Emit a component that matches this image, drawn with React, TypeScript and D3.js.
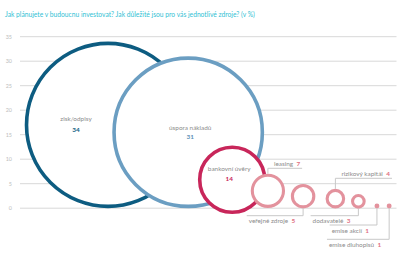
import React from "react";
import * as d3 from "d3";

const title = "Jak plánujete v budoucnu investovat? Jak důležité jsou pro vás jednotlivé zdroje? (v %)";
const categories = ["zisk/odpisy", "úspora nákladů", "bankovní úvěry", "leasing", "veřejné zdroje", "rizikový kapitál", "dodavatelé", "emise akcií", "emise dluhopisů"];
const values = [34, 31, 14, 7, 5, 4, 3, 1, 1];
const xValues = [18.0, 34.4, 43.4, 50.7, 57.9, 64.5, 69.2, 73.0, 75.5];
const yValues = [17, 15.5, 5.8, 3.55, 2.45, 1.95, 1.4, 0.45, 0.45];
const yTicks = [0, 5, 10, 15, 20, 25, 30, 35];
const colors = ["#0d5c81", "#6b9ec2", "#c8265a", "#e3929d", "#e3929d", "#e3929d", "#e3929d", "#e3929d", "#e3929d"];
const numColors = ["#0d5c81", "#5b8fb6", "#c8265a", "#e0707f", "#e0707f", "#e0707f", "#e0707f", "#e0707f", "#e0707f"];

const W = 410, H = 260;
const FONT = "Lato, 'Open Sans', sans-serif";

// label layout (pixels)
const inside: Record<number, { dx: number; dyName: number; dyVal: number }> = {
  0: { dx: -32, dyName: -6, dyVal: 5 },
  1: { dx: 2, dyName: -4, dyVal: 5 },
  2: { dx: -3, dyName: -11, dyVal: -1 },
};
const outside: Record<number, { lineY: number; above: boolean }> = {
  3: { lineY: 168.3, above: true },
  5: { lineY: 178.3, above: true },
  4: { lineY: 215.7, above: false },
  6: { lineY: 215.7, above: false },
  7: { lineY: 225, above: false },
  8: { lineY: 239.3, above: false },
};

let ctx: CanvasRenderingContext2D | null = null;
function textW(s: string, size: number, weight = "normal") {
  if (!ctx) ctx = document.createElement("canvas").getContext("2d");
  if (!ctx) return s.length * size * 0.5;
  ctx.font = `${weight} ${size}px Lato`;
  return ctx.measureText(s).width;
}

export default function App() {
  const x = d3.scaleLinear().domain([0, 77]).range([20, 396.5]);
  const y = d3.scaleLinear().domain([0, 35]).range([208.2, 36.7]);
  const unit = y(0) - y(1);
  const plotRight = x(77);
  const LS = 6.4;

  return (
    <svg width={W} height={H} style={{ position: "absolute", left: 0, top: 0, background: "#fff" }} fontFamily={FONT}>
      <text x={5} y={16.5} fontSize={6.7} fill="#33bfd4">{title}</text>
      {yTicks.map((t) => (
        <g key={t}>
          <line x1={x(0)} x2={plotRight} y1={y(t)} y2={y(t)} stroke="#d8d8d8" strokeWidth={1} />
          <text x={12} y={y(t) + 2} fontSize={5.4} fill="#bdbdbd" textAnchor="end">{t}</text>
        </g>
      ))}
      {values.map((v, i) => {
        const cx = x(xValues[i]);
        const cy = y(yValues[i]);
        const outer = (v * unit) / 2;
        if (v <= 1) {
          return <circle key={i} cx={cx} cy={cy} r={outer} fill={colors[i]} />;
        }
        const sw = v >= 10 ? 3.6 : 3.1;
        return <circle key={i} cx={cx} cy={cy} r={outer - sw / 2} fill="#fff" stroke={colors[i]} strokeWidth={sw} />;
      })}
      {values.map((v, i) => {
        const cx = x(xValues[i]);
        const cy = y(yValues[i]);
        const outer = (v * unit) / 2;
        if (inside[i]) {
          const o = inside[i];
          return (
            <g key={"l" + i}>
              <text x={cx + o.dx} y={cy + o.dyName + 2} fontSize={LS} fill="#8c8c8c" textAnchor="middle">{categories[i]}</text>
              <text x={cx + o.dx} y={cy + o.dyVal + 2} fontSize={LS} fontWeight="bold" fill={numColors[i]} textAnchor="middle">{v}</text>
            </g>
          );
        }
        const o = outside[i];
        if (!o) return null;
        const label = categories[i] + "  ";
        const tw = textW(label, LS) + textW(String(v), LS, "bold");
        if (o.above) {
          const topY = cy - outer;
          const tx = Math.min(cx + 6, plotRight - tw - 2);
          const endX = tx + tw + 2;
          return (
            <g key={"l" + i}>
              <polyline points={`${cx},${topY} ${cx},${o.lineY} ${endX},${o.lineY}`} fill="none" stroke="#c8c8c8" strokeWidth={1} />
              <text x={tx} y={o.lineY - 2.5} fontSize={LS} fill="#8c8c8c" style={{ whiteSpace: "pre" }}>
                {label}
                <tspan fontWeight="bold" fill={numColors[i]}>{v}</tspan>
              </text>
            </g>
          );
        }
        const botY = cy + outer;
        const tEnd = cx - 8;
        const tx = tEnd - tw;
        return (
          <g key={"l" + i}>
            <polyline points={`${cx},${botY} ${cx},${o.lineY} ${tx - 2},${o.lineY}`} fill="none" stroke="#c8c8c8" strokeWidth={1} />
            <text x={tx} y={o.lineY + 7.5} fontSize={LS} fill="#8c8c8c" style={{ whiteSpace: "pre" }}>
              {label}
              <tspan fontWeight="bold" fill={numColors[i]}>{v}</tspan>
            </text>
          </g>
        );
      })}
    </svg>
  );
}
